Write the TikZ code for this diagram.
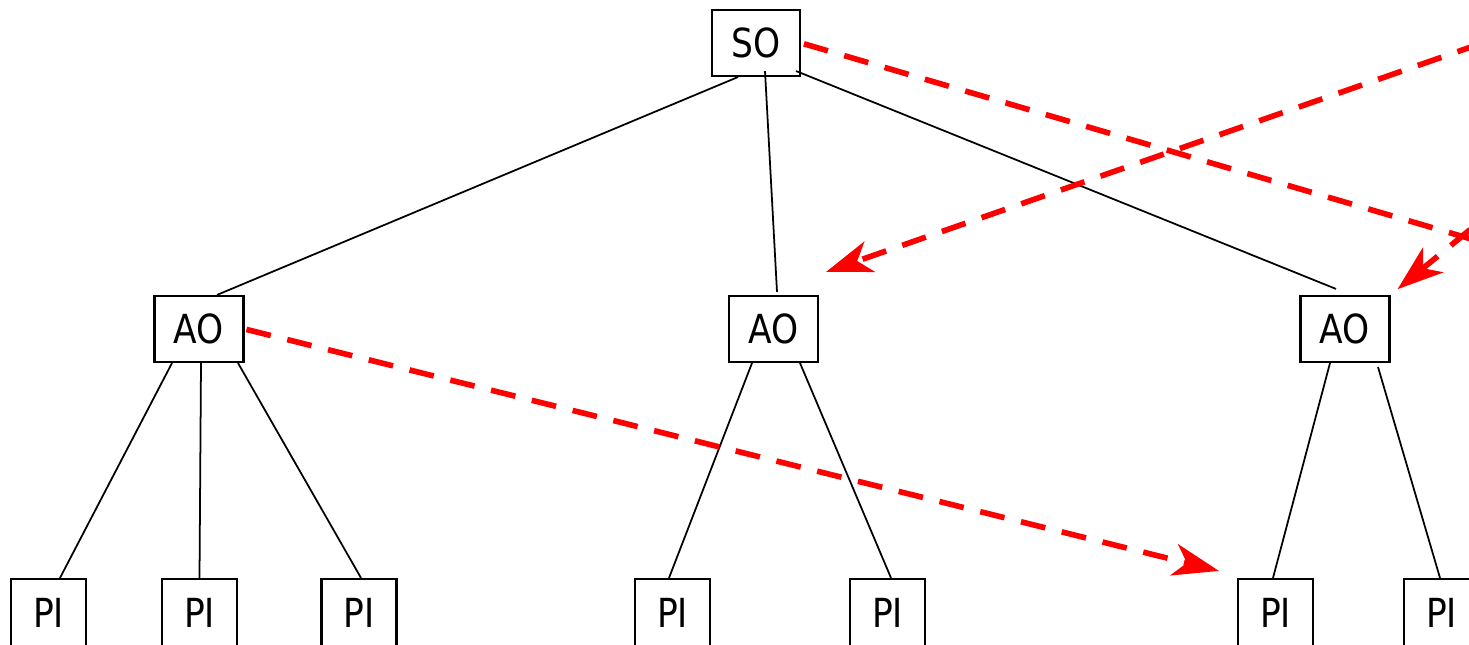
\documentclass[tikz,border=0pt]{standalone}
\usepackage{fontspec}
\setmainfont[FakeStretch=0.86]{DejaVu Sans}
\usetikzlibrary{arrows.meta}
\begin{document}
\begin{tikzpicture}[
  box/.style={draw,line width=0.6pt,inner sep=0pt,minimum height=0.66cm,font=\fontsize{11.4}{13}\selectfont},
  sobox/.style={box,minimum width=0.88cm},
  aobox/.style={box,minimum width=0.89cm},
  pibox/.style={box,minimum width=0.75cm,minimum height=0.68cm},
  edge/.style={line width=0.5pt},
  link/.style={red,line width=1.6pt,dash pattern=on 0.25cm off 0.17cm,-{Stealth[length=4.6mm,width=3.2mm,inset=1.3mm]}}]
\useasboundingbox(0,0)rectangle(14.69,6.45);
\clip(0,0)rectangle(14.69,6.45);
\node[sobox](so)at(7.56,6.02){SO};
\node[aobox](ao1)at(1.99,3.16){AO};
\node[aobox](ao2)at(7.735,3.16){AO};
\node[aobox](ao3)at(13.45,3.16){AO};
\node[pibox](pi1)at(0.485,0.32){PI};
\node[pibox](pi2)at(1.995,0.32){PI};
\node[pibox](pi3)at(3.59,0.32){PI};
\node[pibox](pi4)at(6.725,0.32){PI};
\node[pibox](pi5)at(8.875,0.32){PI};
\node[pibox](pi6)at(12.755,0.32){PI};
\node[pibox](pi7)at(14.415,0.32){PI};
\coordinate(farA)at(17,3.39);
\coordinate(farB)at(16,5.22);
\coordinate(farC)at(16,6.43);
\draw[edge]([xshift=-1.8mm]so.south)--([xshift=1.8mm]ao1.north);
\draw[edge]([xshift=0.9mm,yshift=0.6mm]so.south)--([xshift=0.35mm,yshift=0.3mm]ao2.north);
\draw[edge]([xshift=-0.5mm,yshift=0.6mm]so.south east)--([xshift=-0.9mm,yshift=0.6mm]ao3.north);
\draw[edge]([xshift=-2.7mm]ao1.south)--([xshift=1.15mm]pi1.north);
\draw[edge]([xshift=0.2mm]ao1.south)--(pi2.north);
\draw[edge]([xshift=3.9mm]ao1.south)--([xshift=0.2mm]pi3.north);
\draw[edge]([xshift=-2.15mm]ao2.south)--([xshift=-0.35mm]pi4.north);
\draw[edge]([xshift=2.65mm]ao2.south)--([xshift=0.35mm]pi5.north);
\draw[edge]([xshift=-1.5mm]ao3.south)--([xshift=-0.25mm]pi6.north);
\draw[edge]([xshift=3.3mm,yshift=-0.4mm]ao3.south)--([xshift=-0.15mm]pi7.north);
\draw[link,-,shorten <=0.3mm](so.east)--(farA);
\draw[link,shorten >=0.9mm](farB)--(ao3.north east);
\draw[link](farC)--([xshift=0.7mm,yshift=2.3mm]ao2.north east);
\draw[link,shorten <=0.2mm](ao1.east)--([xshift=-1.8mm,yshift=0.7mm]pi6.north west);
\end{tikzpicture}
\end{document}
